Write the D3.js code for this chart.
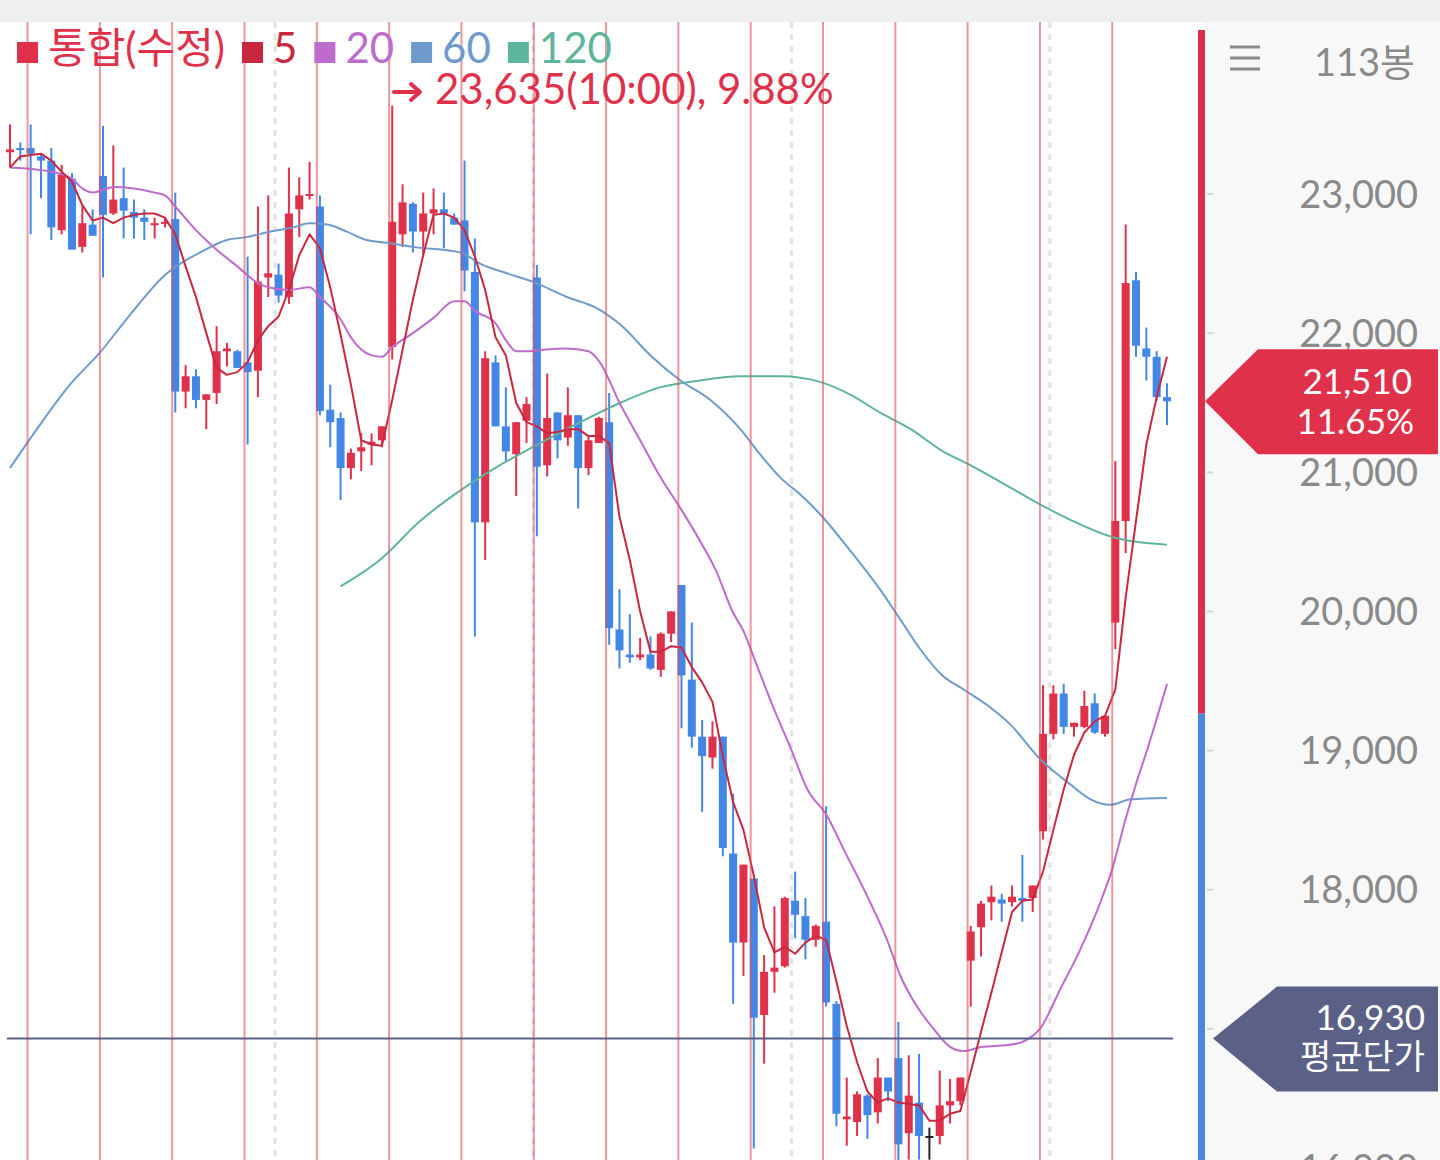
<!DOCTYPE html>
<html lang="ko">
<head>
<meta charset="UTF-8">
<title>통합(수정) 60분봉</title>
<script src="https://d3js.org/d3.v7.min.js" type="text/javascript"></script>
<style>
    html, body { margin: 0; padding: 0; background: #fff; }
    svg { display: block; font-family: Lato, "Noto Sans CJK KR", sans-serif; }
</style>
</head>
<body>
<script>
    var width = 1440, height = 1160;

    // 60-minute candles, oldest first
    var opens = [23300, 23330, 23330, 23270, 23240, 22740, 23110, 22620, 22780, 23130,
        22860, 22970, 22870, 22830, 22780, 22790, 22820, 21580, 21690, 21520,
        21570, 21870, 21870, 21790, 21730, 22400, 22420, 22260, 22890, 22990,
        22910, 21450, 21390, 21030, 21150, 21200, 21230, 21900, 22710, 22930,
        22730, 22860, 22890, 22830, 22810, 22440, 20640, 21790, 21330, 21130,
        21370, 22400, 21050, 21430, 21250, 21410, 21030, 21210, 21360, 19870,
        19690, 19670, 19690, 19580, 19840, 20190, 19510, 19100, 18950, 19100,
        18260, 17620, 18080, 17100, 17410, 17450, 17920, 17810, 17640, 17770,
        17180, 16350, 16330, 16520, 16400, 16650, 16790, 16250, 16470, 16230,
        16230, 16450, 16480, 17490, 17730, 17910, 17930, 17910, 17940, 17940,
        18420, 19120, 19410, 19170, 19170, 19340, 19120, 19920, 20650, 22380,
        21890, 21830, 21540];
    var highs = [23500, 23370, 23500, 23290, 23330, 23210, 23150, 22910, 22890, 23490,
        23350, 23190, 22960, 22890, 22830, 22830, 23010, 21770, 21740, 21560,
        22050, 21930, 21880, 22550, 22910, 22990, 22500, 23190, 23120, 23230,
        22990, 21630, 21430, 21170, 21280, 21280, 21330, 23635, 23070, 22940,
        23010, 23040, 23010, 22860, 23240, 22680, 21870, 21840, 21610, 21360,
        21540, 22490, 21710, 21430, 21610, 21410, 21260, 21400, 21570, 20160,
        19980, 19810, 19820, 19850, 20000, 20190, 19920, 19220, 19210, 19100,
        18690, 18180, 18080, 17530, 17880, 17950, 18130, 17940, 17750, 18600,
        17200, 16650, 16550, 16530, 16790, 16650, 17050, 16810, 16820, 16290,
        16700, 16640, 16650, 17740, 17920, 18030, 17970, 18030, 18250, 18030,
        19470, 19470, 19480, 19200, 19430, 19410, 19250, 21080, 22780, 22440,
        22040, 21870, 21640];
    var lows = [23190, 23240, 22710, 22970, 22670, 22710, 22600, 22580, 22700, 22400,
        22850, 22680, 22680, 22670, 22680, 22760, 21430, 21460, 21460, 21310,
        21490, 21760, 21750, 21200, 21540, 22260, 22220, 22210, 22690, 22960,
        21410, 21180, 20800, 20950, 21010, 21050, 21180, 21810, 22620, 22580,
        22560, 22710, 22610, 22780, 22300, 19820, 20370, 21330, 21080, 20830,
        21210, 20540, 20970, 21100, 21190, 20740, 20980, 21210, 19760, 19590,
        19630, 19650, 19580, 19530, 19780, 19160, 19020, 18560, 18870, 18240,
        17180, 17380, 16140, 16750, 17260, 17440, 17650, 17500, 17590, 17160,
        16300, 16160, 16230, 16210, 16320, 16480, 16040, 16060, 16060, 16060,
        16170, 16320, 16450, 17160, 17520, 17780, 17770, 17880, 17770, 17840,
        18360, 19080, 19120, 19100, 19160, 19120, 19100, 19730, 20420, 21830,
        21660, 21510, 21340];
    var closes = [23320, 23320, 23290, 23240, 22760, 23140, 22600, 22790, 22700, 22850,
        22960, 22880, 22830, 22800, 22790, 22800, 21580, 21690, 21520, 21560,
        21870, 21890, 21750, 21720, 22370, 22430, 22270, 22860, 22990, 23000,
        21440, 21360, 21030, 21140, 21180, 21220, 21330, 22800, 22940, 22730,
        22860, 22890, 22860, 22780, 22450, 20640, 21820, 21330, 21150, 21360,
        21490, 21040, 21390, 21230, 21410, 21030, 21230, 21390, 19880, 19720,
        19670, 19690, 19590, 19840, 20000, 19540, 19100, 18960, 19100, 18300,
        17620, 18180, 17080, 17410, 17440, 17940, 17820, 17640, 17740, 17190,
        16390, 16370, 16530, 16380, 16650, 16550, 16170, 16520, 16230, 16230,
        16450, 16480, 16650, 17700, 17900, 17950, 17900, 17950, 17920, 18030,
        19120, 19410, 19170, 19200, 19320, 19130, 19250, 20650, 22360, 21910,
        21830, 21540, 21510];

    // moving averages
    var ma5 = [23190, 23270, 23280, 23290, 23240, 23160, 23090, 22920, 22810, 22830,
        22790, 22830, 22850, 22860, 22860, 22830, 22710, 22480, 22260, 22000,
        21750, 21700, 21720, 21790, 21950, 22050, 22120, 22310, 22560, 22710,
        22610, 22330, 21990, 21630, 21230, 21200, 21190, 21520, 21880, 22240,
        22560, 22850, 22860, 22830, 22740, 22550, 22310, 21970, 21840, 21500,
        21360, 21330, 21280, 21290, 21310, 21310, 21260, 21260, 21210, 20680,
        20370, 20000, 19710, 19710, 19750, 19740, 19600, 19490, 19350, 18960,
        18630, 18430, 18100, 17730, 17550, 17590, 17540, 17620, 17670, 17640,
        17340, 17020, 16760, 16550, 16470, 16500, 16470, 16460, 16450, 16340,
        16340, 16390, 16410, 16690, 16980, 17260, 17550, 17840, 17920, 17930,
        18130, 18430, 18720, 18970, 19130, 19210, 19250, 19440, 20100, 20650,
        21200, 21540, 21830];
    var ma20 = [[0, 23190], [4, 23160], [6, 23110], [7, 23040], [8, 23010], [9, 23030], [10, 23050],
        [12, 23040], [14, 23010], [15, 22990], [16, 22910], [18, 22740], [20, 22600], [22, 22480],
        [24, 22360], [25, 22330], [27, 22310], [29, 22330], [30, 22260], [32, 22100], [33, 21970],
        [35, 21840], [36, 21830], [37, 21900], [39, 22000], [41, 22110], [43, 22230], [44, 22230],
        [45, 22160], [47, 22070], [48, 21950], [49, 21870], [50.4, 21870], [51.6, 21880], [53.9, 21890],
        [56, 21870], [57.1, 21790], [59, 21500], [61, 21230], [63, 20960], [65, 20730], [67, 20480],
        [68.3, 20300], [70, 19990], [71, 19860], [72, 19670], [74, 19290], [75.5, 19030], [77.2, 18720],
        [79.1, 18530], [80.7, 18290], [83, 17950], [84.9, 17640], [86.2, 17380], [87.8, 17160],
        [89.4, 17000], [91, 16870], [92.3, 16840], [94, 16870], [96, 16880], [97.8, 16900], [99, 16950],
        [99.7, 17000], [101.7, 17290], [103.6, 17570], [105.5, 17900], [106.7, 18150], [108, 18510],
        [109, 18760], [110.1, 19010], [112, 19480]];
    var ma60 = [[0, 21030], [2.6, 21310], [5.8, 21630], [8.7, 21860], [11.6, 22130], [15.2, 22430],
        [16.5, 22500], [18.4, 22580], [21, 22670], [22.9, 22690], [25.2, 22730], [27.4, 22760], [29, 22790],
        [30.7, 22780], [32.6, 22730], [34.5, 22670], [36.5, 22650], [39, 22620], [43.6, 22580], [45.5, 22500],
        [48.1, 22430], [50.6, 22370], [53.9, 22260], [56.8, 22180], [59.1, 22060], [62, 21840], [64.9, 21660],
        [67.8, 21520], [70.7, 21310], [72.6, 21130], [74.6, 20960], [76.5, 20840], [78.4, 20700], [81.3, 20440],
        [84.2, 20160], [86.2, 19940], [88.1, 19730], [90.1, 19550], [92.5, 19430], [94.9, 19310], [96.8, 19190],
        [99.7, 18940], [102.6, 18760], [104.6, 18650], [106.5, 18610], [108.5, 18650], [112, 18660]];
    var ma120 = [[32, 20180], [35.8, 20370], [39.7, 20650], [43.6, 20870], [47.4, 21050], [50.6, 21180],
        [55.2, 21360], [59.1, 21500], [62.9, 21610], [66.8, 21660], [70.7, 21690], [74.6, 21690],
        [78.4, 21650], [81.3, 21560], [84.2, 21430], [87.2, 21310], [90.1, 21160], [93, 21050], [95.9, 20930],
        [99.7, 20770], [102.6, 20660], [106.5, 20540], [107.5, 20520], [112, 20480]];

    var dayStarts = [2, 9, 16, 23, 30, 37, 44, 51, 58, 65, 72, 79, 86, 93, 100, 107];
    var gridMarks = [25.65, 50.65, 75.65, 100.65];
    var priceTicks = [16000, 17000, 18000, 19000, 20000, 21000, 22000, 23000];
    var avgPrice = 16930;
    var prevClose = 19265;
    var topHigh = 23635, topHighTime = '10:00';

    var red = '#e0314b', blue = '#4387e6';
    var maColors = {ma5: '#c8283f', ma20: '#bd6bcd', ma60: '#6f9bcc', ma120: '#5db59b'};

    var svg = d3.select('body').append('svg').attr('width', width).attr('height', height);

    var x = d3.scaleLinear().domain([0, closes.length - 1]).range([10, 1167]);
    var y = d3.scaleLinear().domain([16000, 23000]).range([1168, 194]);
    var step = x(1) - x(0);
    var comma = d3.format(',');

    // backgrounds
    svg.append('rect').attr('width', width).attr('height', height).attr('fill', '#fff');
    svg.append('rect').attr('x', 1205).attr('y', 22).attr('width', 235).attr('height', height - 22).attr('fill', '#f8f8f8');
    svg.append('rect').attr('width', width).attr('height', 22).attr('fill', '#efefef');

    svg.append('clipPath').attr('id', 'plot')
        .append('rect').attr('x', 0).attr('y', 22).attr('width', 1198).attr('height', height - 22);
    var plot = svg.append('g').attr('clip-path', 'url(#plot)');

    // dashed grid
    plot.selectAll('line.grid').data(gridMarks).join('line')
        .attr('class', 'grid')
        .attr('x1', function (d) { return x(d); }).attr('x2', function (d) { return x(d); })
        .attr('y1', 22).attr('y2', height)
        .attr('stroke', '#e2e2e2').attr('stroke-width', 3).attr('stroke-dasharray', '6,6');

    // candles
    var bars = d3.range(closes.length).map(function (i) {
        return {i: i, o: opens[i], h: highs[i], l: lows[i], c: closes[i]};
    });
    function candleColor(d) {
        if (d.c > d.o) return red;
        if (d.c < d.o) return blue;
        return '#222';
    }
    plot.selectAll('line.wick').data(bars).join('line')
        .attr('class', 'wick')
        .attr('x1', function (d) { return x(d.i); }).attr('x2', function (d) { return x(d.i); })
        .attr('y1', function (d) { return y(d.h); }).attr('y2', function (d) { return y(d.l); })
        .attr('stroke', candleColor).attr('stroke-width', 2);
    plot.selectAll('rect.body').data(bars).join('rect')
        .attr('class', 'body')
        .attr('x', function (d) { return x(d.i) - 4; })
        .attr('width', 8)
        .attr('y', function (d) { return y(Math.max(d.o, d.c)); })
        .attr('height', function (d) { return Math.max(2, Math.abs(y(d.o) - y(d.c))); })
        .attr('fill', candleColor);

    // moving averages
    var lineLinear = d3.line().x(function (d) { return x(d[0]); }).y(function (d) { return y(d[1]); });
    var lineSmooth = d3.line().curve(d3.curveMonotoneX)
        .x(function (d) { return x(d[0]); }).y(function (d) { return y(d[1]); });
    [['ma120', ma120], ['ma60', ma60], ['ma20', ma20]].forEach(function (s) {
        plot.append('path').datum(s[1])
            .attr('d', lineSmooth).attr('fill', 'none')
            .attr('stroke', maColors[s[0]]).attr('stroke-width', 2);
    });
    plot.append('path').datum(ma5.map(function (v, i) { return [i, v]; }))
        .attr('d', lineLinear).attr('fill', 'none')
        .attr('stroke', maColors.ma5).attr('stroke-width', 2).attr('stroke-linejoin', 'round');

    // day separators
    plot.selectAll('line.day').data(dayStarts).join('line')
        .attr('class', 'day')
        .attr('x1', function (d) { return x(d) - step * 0.3; }).attr('x2', function (d) { return x(d) - step * 0.3; })
        .attr('y1', 22).attr('y2', height)
        .attr('stroke', '#e0505c').attr('stroke-opacity', 0.6).attr('stroke-width', 2);

    // average price line
    svg.append('line')
        .attr('x1', 7).attr('x2', 1173)
        .attr('y1', y(avgPrice)).attr('y2', y(avgPrice))
        .attr('stroke', '#5a5f86').attr('stroke-width', 2);

    // right axis
    svg.append('rect').attr('x', 1198).attr('y', 30).attr('width', 7)
        .attr('height', y(prevClose) - 30).attr('fill', '#dc304a');
    svg.append('rect').attr('x', 1198).attr('y', y(prevClose)).attr('width', 7)
        .attr('height', height - y(prevClose)).attr('fill', '#4a87e2');

    svg.selectAll('line.tick').data(priceTicks).join('line')
        .attr('class', 'tick')
        .attr('x1', 1207).attr('x2', 1213)
        .attr('y1', function (d) { return y(d); }).attr('y2', function (d) { return y(d); })
        .attr('stroke', '#d6d6d6').attr('stroke-width', 2);
    // the average-price tag hides the tick label right under it
    var shownTicks = priceTicks.filter(function (d) { return Math.abs(y(d) - y(avgPrice)) > 40; });
    svg.selectAll('text.tick').data(shownTicks).join('text')
        .attr('class', 'tick')
        .attr('x', 1418).attr('y', function (d) { return y(d); }).attr('dy', '0.36em')
        .attr('text-anchor', 'end').attr('font-size', 38).attr('fill', '#8a8a8a')
        .text(function (d) { return comma(d); });

    // menu + bar count
    [47, 58, 69].forEach(function (yy) {
        svg.append('line').attr('x1', 1230).attr('x2', 1260).attr('y1', yy).attr('y2', yy)
            .attr('stroke', '#8a8a8a').attr('stroke-width', 3);
    });
    svg.append('text').attr('x', 1415).attr('y', 62).attr('dy', '0.36em')
        .attr('text-anchor', 'end').attr('font-size', 38).attr('fill', '#8a8a8a')
        .text(closes.length + '봉');

    // current price label
    var last = closes[closes.length - 1];
    var yc = y(last);
    svg.append('polygon')
        .attr('points', [[1205, yc], [1258, yc - 52], [1438, yc - 52], [1438, yc + 53], [1258, yc + 53]].join(' '))
        .attr('fill', red);
    svg.append('text').attr('x', 1412).attr('y', yc - 20).attr('dy', '0.36em')
        .attr('text-anchor', 'end').attr('font-size', 35).attr('fill', '#fff')
        .text(comma(last));
    svg.append('text').attr('x', 1414).attr('y', yc + 20).attr('dy', '0.36em')
        .attr('text-anchor', 'end').attr('font-size', 35).attr('fill', '#fff')
        .text(d3.format('.2f')((last / prevClose - 1) * 100) + '%');

    // average price label
    var ya = y(avgPrice);
    svg.append('polygon')
        .attr('points', [[1213, ya], [1277, ya - 52], [1438, ya - 52], [1438, ya + 53], [1277, ya + 53]].join(' '))
        .attr('fill', '#5b6087');
    svg.append('text').attr('x', 1425).attr('y', ya - 21).attr('dy', '0.36em')
        .attr('text-anchor', 'end').attr('font-size', 35).attr('fill', '#fff')
        .text(comma(avgPrice));
    svg.append('text').attr('x', 1425).attr('y', ya + 18).attr('dy', '0.36em')
        .attr('text-anchor', 'end').attr('font-size', 34).attr('fill', '#fff')
        .text('평균단가');

    // legend
    var legend = [
        {label: '통합(수정)', color: red},
        {label: '5', color: maColors.ma5},
        {label: '20', color: maColors.ma20},
        {label: '60', color: maColors.ma60},
        {label: '120', color: maColors.ma120}
    ];
    var lx = 17;
    legend.forEach(function (item) {
        svg.append('rect').attr('x', lx).attr('y', 42).attr('width', 21).attr('height', 21).attr('fill', item.color);
        var t = svg.append('text').attr('x', lx + 31).attr('y', 63)
            .attr('font-size', 42).attr('fill', item.color).text(item.label);
        lx += 31 + t.node().getComputedTextLength() + 17;
    });

    // highest price note
    var g = svg.append('g').attr('stroke', red).attr('stroke-width', 4).attr('fill', 'none')
        .attr('stroke-linecap', 'round').attr('stroke-linejoin', 'round');
    g.append('path').attr('d', 'M394,92H419');
    g.append('path').attr('d', 'M411,84L420,92L411,100');
    svg.append('text').attr('x', 435).attr('y', 104).attr('font-size', 42).attr('fill', red)
        .text(comma(topHigh) + '(' + topHighTime + '), ' + d3.format('.2f')((topHigh / last - 1) * 100) + '%');
</script>
</body>
</html>
